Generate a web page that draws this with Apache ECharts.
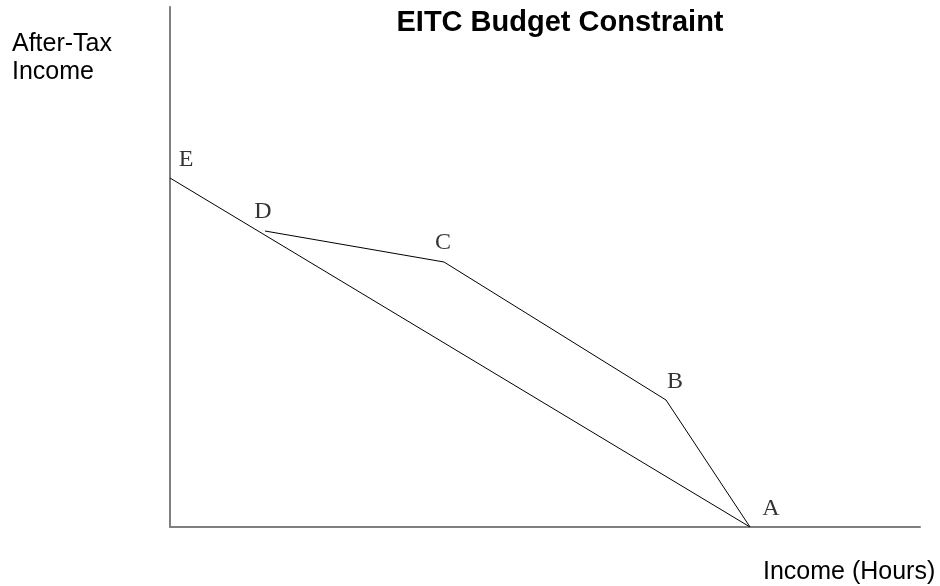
<!DOCTYPE html>
<html>
<head>
<meta charset="utf-8">
<script src="https://cdn.jsdelivr.net/npm/echarts@6/dist/echarts.min.js"></script>
<style>
  html, body { margin: 0; padding: 0; background: #fff; }
  #chart { width: 940px; height: 586px; }
</style>
</head>
<body>
<div id="chart"></div>
<script>
// points on the budget constraint (hours axis, income axis)
const pointNames = ['E', 'D', 'C', 'B', 'A']
const pointX = [0, 9.5, 27.4, 49.6, 58.0]
const pointY = [34.9, 29.6, 26.5, 12.7, 0]

// the plain line runs E -> A, the EITC kink runs D -> C -> B -> A
const baseLine = ['E', 'A']
const eitcLine = ['D', 'C', 'B', 'A']

const chartTitle = 'EITC Budget Constraint'
const yName = 'After-Tax\nIncome'
const xName = 'Income (Hours)'

const pick = names => names.map(n => {
  const i = pointNames.indexOf(n)
  return [pointX[i], pointY[i]]
})

// where each letter sits relative to its point
const labelOffset = {
  E: [16, -18],
  D: [-2, -19],
  C: [-1, -19],
  B: [9, -18],
  A: [21, -18]
}

const myChart = echarts.init(document.getElementById('chart'))

const option = {
  animation: false,
  backgroundColor: '#fff',
  title: [
    {
      text: chartTitle,
      left: 555,
      top: 3,
      textAlign: 'center',
      textStyle: { fontFamily: 'Liberation Sans', fontWeight: 'bold', fontSize: 29, color: '#000' }
    },
    {
      text: yName,
      left: 7,
      top: 25,
      textStyle: { fontFamily: 'Liberation Sans', fontWeight: 'normal', fontSize: 25, lineHeight: 28, color: '#000' }
    },
    {
      text: xName,
      left: 758,
      top: 555,
      textStyle: { fontFamily: 'Liberation Sans', fontWeight: 'normal', fontSize: 25, color: '#000' }
    }
  ],
  grid: {
    left: 170,
    right: 20,
    top: 7,
    bottom: 59
  },
  xAxis: {
    type: 'value',
    min: 0,
    max: 75,
    splitLine: { show: false },
    axisTick: { show: false },
    axisLabel: { show: false },
    axisLine: { lineStyle: { color: '#7f7f7f', width: 2 } }
  },
  yAxis: {
    type: 'value',
    min: 0,
    max: 52,
    splitLine: { show: false },
    axisTick: { show: false },
    axisLabel: { show: false },
    axisLine: { lineStyle: { color: '#7f7f7f', width: 2 } }
  },
  series: [
    {
      type: 'line',
      data: pick(baseLine),
      symbol: 'none',
      lineStyle: { color: '#000', width: 1 }
    },
    {
      type: 'line',
      data: pick(eitcLine),
      symbol: 'none',
      lineStyle: { color: '#000', width: 1 }
    },
    {
      type: 'scatter',
      symbolSize: 0,
      data: pointNames.map((n, i) => ({
        name: n,
        value: [pointX[i], pointY[i]],
        label: { offset: labelOffset[n] }
      })),
      label: {
        show: true,
        position: 'inside',
        formatter: '{b}',
        fontFamily: 'Liberation Serif',
        fontSize: 24,
        color: '#000'
      }
    }
  ]
}

myChart.setOption(option)
</script>
</body>
</html>
